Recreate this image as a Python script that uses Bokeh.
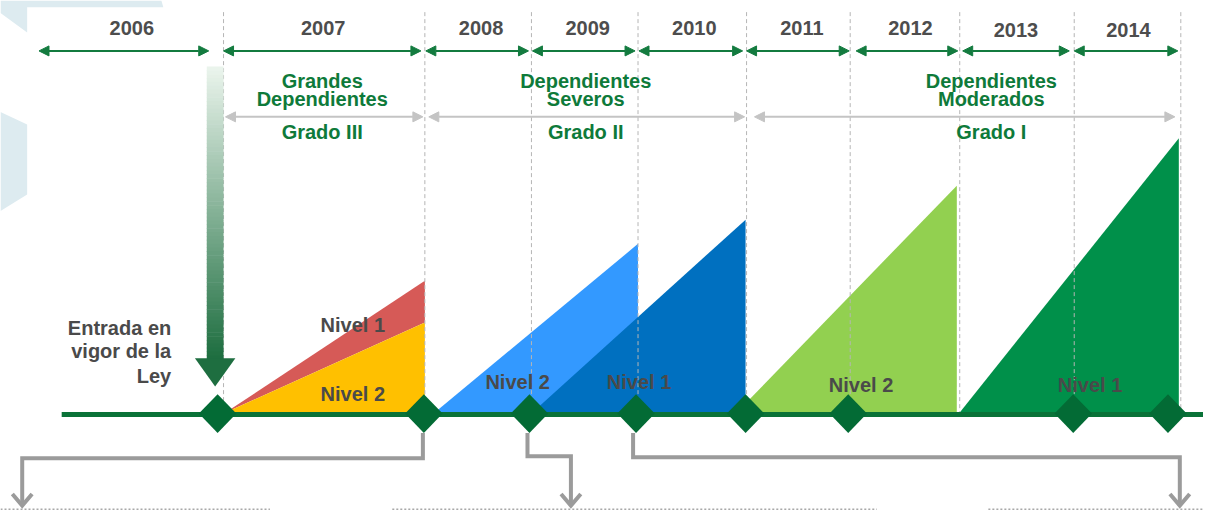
from bokeh.plotting import figure
from bokeh.models import Range1d, Arrow, NormalHead
from bokeh.core.properties import value
from bokeh.embed import file_html
from bokeh.resources import INLINE

# ---------------- data ----------------
years = ["2006", "2007", "2008", "2009", "2010", "2011", "2012", "2013", "2014"]
group_line1 = ["Grandes", "Dependientes", "Dependientes"]
group_line2 = ["Dependientes", "Severos", "Moderados"]
grades = ["Grado III", "Grado II", "Grado I"]
law_text = ["Entrada en", "vigor de la", "Ley"]
wedge_names = ["Grado III N1", "Grado III N2", "Grado II N2", "Grado II N1", "Grado I N2", "Grado I N1"]
wedge_heights = [136, 93, 174, 199, 234, 283]     # height of each wedge's peak above the timeline
nivel_labels = ["Nivel 1", "Nivel 2", "Nivel 2", "Nivel 1", "Nivel 2", "Nivel 1"]

# ---------------- layout (pixel space of the 1219x526 reference) ----------------
FONT = value("Liberation Sans")
FS = "20px"
BASE = 425
year_arrow_x = [(39, 211), (226, 426), (431, 535), (539, 643), (647, 752),
                (756, 860), (867, 970), (975, 1083), (1088, 1193)]
year_label_x = [133, 327, 487, 595, 703, 812, 922, 1029, 1143]
year_label_y = [28, 28, 28, 28, 28, 28, 28, 30, 30]
boundaries = [226, 430, 538, 646, 756, 861, 972, 1088, 1196]
grade_arrow_x = [(228, 428), (434, 754), (764, 1190)]
grade_x = [326, 593, 1004]
wedge_start = [228, 228, 440, 539, 746, 972]
wedge_end = [430, 430, 646, 755, 969, 1194]
wedge_colors = ["#D65A57", "#FFC000", "#3399FF", "#0070C0", "#92D050", "#00904A"]
nivel_x = [357, 357, 524, 647, 872, 1104]
nivel_y = [335, 406, 393, 393, 397, 397]
diamond_x = [220, 429, 536, 644, 755, 859, 1087, 1183]

p = figure(width=1203, height=510, x_range=Range1d(0, 1219), y_range=Range1d(526, 0),
           output_backend="svg", toolbar_location=None, min_border=0,
           x_axis_location=None, y_axis_location=None)
p.grid.visible = False
p.outline_line_color = None
p.background_fill_color = "white"
p.border_fill_color = "white"

# decorative background shapes
p.patches(xs=[[0, 163, 165, 27, 27, 0], [0, 27, 27, 0]],
          ys=[[0, 0, 7, 7, 33, 13], [115, 128, 200, 217]],
          fill_color="#DDEBF0", line_color=None)

# wedges
for i in range(len(wedge_heights)):
    x0, x1 = wedge_start[i], wedge_end[i]
    xs = [x0, x1, x1]
    if i == 0:
        ys = [BASE, BASE - wedge_heights[0], BASE - wedge_heights[1]]
    else:
        ys = [BASE, BASE - wedge_heights[i], BASE]
    p.patch(xs, ys, fill_color=wedge_colors[i], line_color=None)

# dashed year boundaries
p.segment(x0=boundaries, y0=[12] * len(boundaries), x1=boundaries, y1=[430] * len(boundaries),
          line_color="#B5B5B5", line_width=1, line_dash="4 3")

# year arrows
for (a, b) in year_arrow_x:
    p.add_layout(Arrow(x_start=a, y_start=52, x_end=b, y_end=52,
                       line_color="#137B3F", line_width=2,
                       start=NormalHead(size=10, fill_color="#137B3F", line_color="#137B3F", line_width=1),
                       end=NormalHead(size=10, fill_color="#137B3F", line_color="#137B3F", line_width=1)))
p.text(x=year_label_x, y=year_label_y, text=years, text_font=FONT, text_font_style="bold",
       text_font_size=FS, text_color="#4D4D4D", text_align="center", text_baseline="middle")

# grade arrows
for (a, b) in grade_arrow_x:
    p.add_layout(Arrow(x_start=a, y_start=120, x_end=b, y_end=120,
                       line_color="#C4C4C4", line_width=2,
                       start=NormalHead(size=10, fill_color="#C4C4C4", line_color="#C4C4C4", line_width=1),
                       end=NormalHead(size=10, fill_color="#C4C4C4", line_color="#C4C4C4", line_width=1)))
p.text(x=grade_x, y=[83] * 3, text=group_line1, text_font=FONT, text_font_style="bold",
       text_font_size=FS, text_color="#0E7A3A", text_align="center", text_baseline="middle")
p.text(x=grade_x, y=[102] * 3, text=group_line2, text_font=FONT, text_font_style="bold",
       text_font_size=FS, text_color="#0E7A3A", text_align="center", text_baseline="middle")
p.text(x=grade_x, y=[136] * 3, text=grades, text_font=FONT, text_font_style="bold",
       text_font_size=FS, text_color="#0E7A3A", text_align="center", text_baseline="middle")

# gradient arrow (entry into force)
n = 76
c0 = (0xEA, 0xF4, 0xEC)
c1 = (0x1E, 0x6E, 0x40)
for k in range(n):
    t = k / (n - 1)
    col = "#%02X%02X%02X" % tuple(int(round(c0[j] + (c1[j] - c0[j]) * t)) for j in range(3))
    ya = 68 + k * (302 / n)
    p.quad(left=209, right=226, top=ya, bottom=ya + 302 / n + 0.6, fill_color=col, line_color=None)
p.patch([197, 238, 217.5], [369, 369, 398], fill_color="#1E6E40", line_color=None)
p.text(x=[173] * 3, y=[338, 362, 387], text=law_text, text_font=FONT, text_font_style="bold",
       text_font_size=FS, text_color="#4A4A4A", text_align="right", text_baseline="middle")

# nivel labels
p.text(x=nivel_x, y=nivel_y, text=nivel_labels, text_font=FONT, text_font_style="bold",
       text_font_size=FS, text_color="#4A4A4A", text_align="center", text_baseline="middle")

# connectors
gray = "#9B9B9B"
p.multi_line(xs=[[428, 428, 22, 22], [534, 534, 578, 578], [641, 641, 1195, 1195]],
             ys=[[446, 472, 472, 521], [446, 470, 470, 521], [446, 471, 471, 521]],
             line_color=gray, line_width=4, line_join="miter")
p.multi_line(xs=[[12, 22, 32], [568, 578, 588], [1185, 1195, 1205]],
             ys=[[509, 521, 509]] * 3, line_color=gray, line_width=4, line_join="miter")

# dotted bottom lines
p.segment(x0=[0, 397, 1001], y0=[525] * 3, x1=[273, 888, 1219], y1=[525] * 3,
          line_color="#A8A8A8", line_width=2, line_dash="2 2")

# timeline and diamonds
p.segment(x0=[62], y0=[427], x1=[1219], y1=[427], line_color="#0A7238", line_width=5)
dxs = [[x - 19, x, x + 19, x] for x in diamond_x]
dys = [[426, 406, 426, 446] for _ in diamond_x]
p.patches(xs=dxs, ys=dys, fill_color="#036B35", line_color=None)

open("out.html", "w").write(file_html(p, INLINE))
